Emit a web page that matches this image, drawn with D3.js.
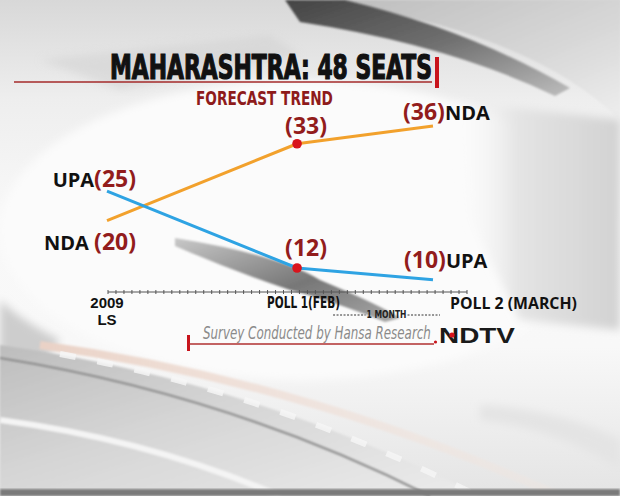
<!DOCTYPE html>
<html><head><meta charset="utf-8">
<script src="https://cdn.jsdelivr.net/npm/d3@7"></script>
<style>html,body{margin:0;padding:0;background:#fff;overflow:hidden}</style>
</head><body>
<svg id="chart" width="620" height="496"></svg>
<script>
// ---- data ----
const categories = ["2009 LS", "POLL 1(FEB)", "POLL 2 (MARCH)"];
const categoryLines = [["2009", "LS"], ["POLL 1(FEB)"], ["POLL 2 (MARCH)"]];
const ndaSeats = [20, 33, 36];
const upaSeats = [25, 12, 10];
const totalSeats = 48;
const titleText = "MAHARASHTRA: 48 SEATS";
const subtitleText = "FORECAST TREND";
const gapText = "1 MONTH";
const sourceText = "Survey Conducted by Hansa Research";
const brandText = "NDTV";

// ---- layout ----
const W = 620, H = 496;
const left = 107, right = 433;
const svg = d3.select("#chart");
const defs = svg.append("defs");

function lg(id, x1, y1, x2, y2, stops) {
  const g = defs.append("linearGradient").attr("id", id)
    .attr("x1", x1).attr("y1", y1).attr("x2", x2).attr("y2", y2);
  stops.forEach(s => g.append("stop").attr("offset", s[0]).attr("stop-color", s[1]).attr("stop-opacity", s[2] == null ? 1 : s[2]));
}
lg("bgBase", 0, 0, 0, 1, [[0, "#d8d8d8"], [0.2, "#eeeeee"], [0.45, "#f9f9f9"], [0.7, "#f8f8f8"], [1, "#e4e4e4"]]);
lg("topBand", 0, 0, 1, 1, [[0, "#444"], [0.5, "#707070"], [1, "#bdbdbd"]]);
lg("topRight", 0, 0, 1, 1, [[0, "#bdbdbd"], [0.6, "#d8d8d8"], [1, "#eeeeee"]]);
lg("rightSide", 0, 0, 1, 0, [[0, "#ffffff", 0], [0.4, "#e4e4e4"], [1, "#d2d2d2"]]);
lg("swoosh", 0, 0, 1, 1, [[0, "#c8c8c8"], [0.55, "#777"], [1, "#a8a8a8"]]);
lg("bottomArc", 0, 0, 1, 1, [[0, "#bdbdbd"], [0.45, "#d6d6d6"], [1, "#ececec"]]);
lg("peach", 0, 0, 1, 0, [[0, "#ead2c6"], [1, "#f3e6df", 0.3]]);
defs.append("filter").attr("id", "blur").append("feGaussianBlur").attr("stdDeviation", 4);
defs.append("filter").attr("id", "blur2").append("feGaussianBlur").attr("stdDeviation", 1.2);

// ---- background ----
const bg = svg.append("g");
bg.append("rect").attr("width", W).attr("height", H).attr("fill", "url(#bgBase)");
bg.append("ellipse").attr("cx", 300).attr("cy", 230).attr("rx", 300).attr("ry", 150)
  .attr("fill", "#fbfbfb").attr("filter", "url(#blur)");
bg.append("path").attr("d", "M40,60 L270,35 L300,55 L120,90 Z").attr("fill", "#cfcfcf").attr("opacity", 0.5).attr("filter", "url(#blur)");
bg.append("path").attr("d", "M330,0 L620,0 L620,120 Q560,60 440,25 Z").attr("fill", "url(#topRight)").attr("filter", "url(#blur2)");
bg.append("path").attr("d", "M285,0 L345,0 Q470,30 570,88 L555,96 Q450,45 300,22 Z").attr("fill", "url(#topBand)").attr("filter", "url(#blur2)");
bg.append("path").attr("d", "M450,100 L620,120 L620,330 L520,320 L470,220 Z").attr("fill", "url(#rightSide)").attr("filter", "url(#blur)");
bg.append("path").attr("d", "M175,238 Q280,255 320,280 Q380,305 400,318 L385,322 Q330,300 290,290 Q230,270 175,246 Z")
  .attr("fill", "url(#swoosh)").attr("filter", "url(#blur2)");
bg.append("path").attr("d", "M0,300 Q20,320 60,340 L0,420 Z").attr("fill", "#cdcdcd").attr("filter", "url(#blur)");
bg.append("path").attr("d", "M0,345 Q250,380 480,496 L0,496 Z").attr("fill", "url(#bottomArc)").attr("filter", "url(#blur2)");
bg.append("path").attr("d", "M40,345 Q300,380 560,496").attr("fill", "none").attr("stroke", "url(#peach)").attr("stroke-width", 8).attr("filter", "url(#blur2)");
bg.append("path").attr("d", "M0,358 Q230,395 430,496").attr("fill", "none").attr("stroke", "#8a8a8a").attr("stroke-width", 2).attr("filter", "url(#blur2)");
bg.append("path").attr("d", "M60,354 Q270,392 470,492").attr("fill", "none").attr("stroke", "#f6f6f6").attr("stroke-width", 6).attr("stroke-dasharray", "16,22").attr("opacity", 0.8);
bg.append("path").attr("d", "M0,420 Q150,440 280,496").attr("fill", "none").attr("stroke", "#f4f4f4").attr("stroke-width", 6).attr("filter", "url(#blur2)");
bg.append("rect").attr("x", 0).attr("y", 489).attr("width", W).attr("height", 7).attr("fill", "#7a7a7a").attr("filter", "url(#blur2)");
bg.append("path").attr("d", "M480,420 Q560,430 620,470 L620,440 Q560,410 480,405 Z").attr("fill", "#e4e4e4").attr("filter", "url(#blur)");

// ---- scales ----
const x = d3.scaleOrdinal().domain(categories)
  .range([left, left + (right - left) * 0.583, right]);
const y = d3.scaleLinear().domain([0, totalSeats]).range([339, 55]);

const fontMain = "'Open Sans', 'DejaVu Sans', sans-serif";
const fontArial = "'Liberation Sans', Arial, sans-serif";
const fontNarrow = "'Liberation Sans Narrow', 'DejaVu Sans Condensed', 'Roboto', sans-serif";

// squeeze/stretch a text horizontally to a target width, keeping its left edge
function fitWidth(sel, x0, yb, width) {
  sel.attr("x", 0).attr("y", 0);
  const w = sel.node().getComputedTextLength();
  sel.attr("transform", `translate(${x0},${yb}) scale(${width / w},1)`);
  return sel;
}

// ---- title ----
svg.append("line").attr("x1", 14).attr("x2", 432).attr("y1", 82).attr("y2", 82)
  .attr("stroke", "#a52a2a").attr("stroke-width", 1.5);
fitWidth(svg.append("text").text(titleText)
  .attr("font-family", fontNarrow).attr("font-weight", "bold").attr("font-size", 33)
  .attr("fill", "#111").attr("stroke", "#111").attr("stroke-width", 1.2), 110, 79, 322);
svg.append("rect").attr("x", 435).attr("y", 57).attr("width", 4).attr("height", 31).attr("fill", "#c8141c");
fitWidth(svg.append("text").text(subtitleText)
  .attr("font-family", fontNarrow).attr("font-weight", "bold").attr("font-size", 20)
  .attr("fill", "#8e1b1b"), 196, 105, 137);

// ---- axis ----
const axisY = 292;
const axis = svg.append("g");
axis.append("line").attr("x1", 108).attr("x2", 467).attr("y1", axisY).attr("y2", axisY)
  .attr("stroke", "#555").attr("stroke-width", 1);
const tickScale = d3.scaleLinear().domain([0, 45]).range([108, 467]);
axis.selectAll("line.tk").data(d3.range(46)).join("line").attr("class", "tk")
  .attr("x1", d => tickScale(d)).attr("x2", d => tickScale(d))
  .attr("y1", axisY - 2).attr("y2", axisY + 2).attr("stroke", "#555").attr("stroke-width", 1);

// category labels
const catG = svg.append("g");
categoryLines[0].forEach((t, i) => {
  catG.append("text").attr("x", x(categories[0])).attr("y", 308 + i * 17).attr("text-anchor", "middle")
    .attr("font-family", fontArial).attr("font-weight", "bold").attr("font-size", 15).attr("fill", "#111").text(t);
});
fitWidth(catG.append("text").text(categoryLines[1][0])
  .attr("font-family", fontNarrow).attr("font-weight", "bold").attr("font-size", 15.5)
  .attr("fill", "#111"), x(categories[1]) - 30, 308, 73);
fitWidth(catG.append("text").text(categoryLines[2][0])
  .attr("font-family", fontMain).attr("font-weight", "bold").attr("font-size", 15.5)
  .attr("fill", "#111"), x(categories[2]) + 17, 309, 127);

// 1 month gap marker
const gx1 = x(categories[1]) + 36, gx2 = x(categories[2]) + 7;
const gmid = (gx1 + gx2) / 2;
svg.append("line").attr("x1", gx1).attr("x2", gmid - 21).attr("y1", 315).attr("y2", 315)
  .attr("stroke", "#333").attr("stroke-dasharray", "2,1.5");
svg.append("line").attr("x1", gmid + 21).attr("x2", gx2).attr("y1", 315).attr("y2", 315)
  .attr("stroke", "#333").attr("stroke-dasharray", "2,1.5");
fitWidth(svg.append("text").text(gapText)
  .attr("font-family", fontNarrow).attr("font-weight", "bold").attr("font-size", 11)
  .attr("fill", "#222"), gmid - 20, 318, 40);

// ---- lines ----
const series = [
  { name: "NDA", values: ndaSeats, color: "#f2a12c" },
  { name: "UPA", values: upaSeats, color: "#2ea3e3" }
];
const line = d3.line().x((d, i) => x(categories[i])).y(d => y(d));
svg.append("g").selectAll("path").data(series).join("path")
  .attr("d", s => line(s.values)).attr("fill", "none")
  .attr("stroke", s => s.color).attr("stroke-width", 3).attr("stroke-linejoin", "round");
svg.append("g").selectAll("circle").data(series).join("circle")
  .attr("cx", x(categories[1])).attr("cy", s => y(s.values[1])).attr("r", 4.8).attr("fill", "#d8141c");

// ---- value labels ----
const red = "#921c1c";
const lab = svg.append("g").attr("font-family", fontMain).attr("font-weight", "bold");
function pair(parts, xx, yy, anchorEnd) {
  const t = lab.append("text").attr("x", xx).attr("y", yy).attr("text-anchor", anchorEnd ? "end" : "start");
  parts.forEach(p => t.append("tspan").text(p.t).attr("fill", p.c).attr("font-size", p.s));
  return t;
}
const nda = series[0], upa = series[1];
pair([{ t: "UPA", c: "#111", s: 20 }, { t: "(" + upa.values[0] + ")", c: red, s: 23 }],
  x(categories[0]) + 29, y(upa.values[0]) - 4, true);
pair([{ t: "NDA ", c: "#111", s: 20 }, { t: "(" + nda.values[0] + ")", c: red, s: 23 }],
  x(categories[0]) + 29, y(nda.values[0]) + 29, true);
[nda, upa].forEach((s, k) => {
  lab.append("text").attr("x", x(categories[1]) + 9).attr("y", y(s.values[1]) - (k ? 12 : 10))
    .attr("text-anchor", "middle").attr("fill", red).attr("font-size", 23).text("(" + s.values[1] + ")");
});
pair([{ t: "(" + nda.values[2] + ")", c: red, s: 23 }, { t: "NDA", c: "#111", s: 20 }],
  x(categories[2]) - 30, y(nda.values[2]) - 6, false);
pair([{ t: "(" + upa.values[2] + ")", c: red, s: 23 }, { t: "UPA", c: "#111", s: 20 }],
  x(categories[2]) - 29, y(upa.values[2]) - 12, false);

// ---- footer ----
svg.append("rect").attr("x", 187).attr("y", 335).attr("width", 3).attr("height", 16).attr("fill", "#c8141c");
svg.append("line").attr("x1", 189).attr("x2", 434).attr("y1", 344).attr("y2", 344)
  .attr("stroke", "#b03030").attr("stroke-width", 1.5);
fitWidth(svg.append("text").text(sourceText)
  .attr("font-family", fontNarrow).attr("font-style", "italic").attr("font-size", 17)
  .attr("fill", "#8a8a8a"), 203, 339, 228);
svg.append("circle").attr("cx", 435.5).attr("cy", 342).attr("r", 1.6).attr("fill", "#c8141c");
fitWidth(svg.append("text").text(brandText)
  .attr("font-family", fontArial).attr("font-weight", "bold").attr("font-size", 22)
  .attr("fill", "#1a1a1a"), 439, 343, 76);
svg.append("circle").attr("cx", 452).attr("cy", 335).attr("r", 2.6).attr("fill", "#d8141c");
</script>
</body></html>
